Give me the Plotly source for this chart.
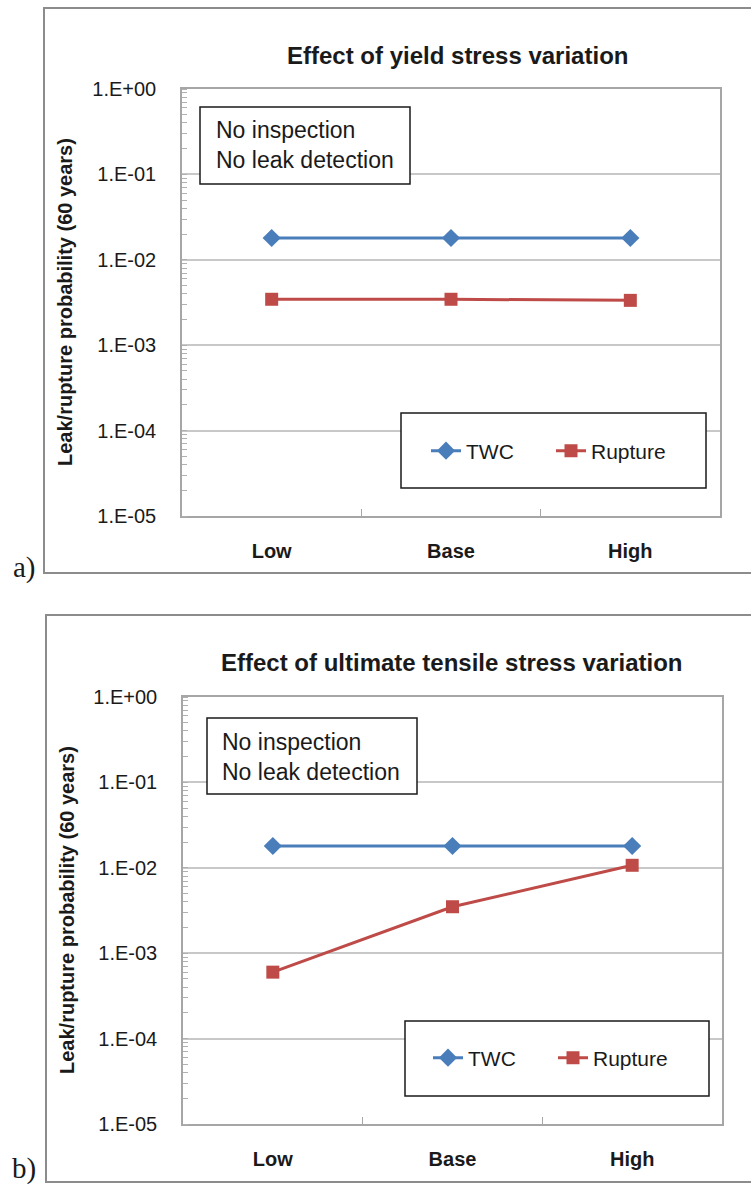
import plotly.graph_objects as go

# ---------------- data ----------------
categories = ["Low", "Base", "High"]
a_twc = [1.8e-2, 1.8e-2, 1.8e-2]
a_rupture = [3.45e-3, 3.45e-3, 3.35e-3]
b_twc = [1.8e-2, 1.8e-2, 1.8e-2]
b_rupture = [6.0e-4, 3.5e-3, 1.07e-2]
ytick_vals = [1e0, 1e-1, 1e-2, 1e-3, 1e-4, 1e-5]
ytick_text = ["1.E+00", "1.E-01", "1.E-02", "1.E-03", "1.E-04", "1.E-05"]
title_a = "Effect of yield stress variation"
title_b = "Effect of ultimate tensile stress variation"
ytitle = "Leak/rupture probability (60 years)"
note = "No inspection<br>No leak detection"

W, H = 751, 1184
BLUE = "#4A7EBB"
RED = "#BE4B48"
FONT = "Liberation Sans, Arial, sans-serif"
SERIF = "Liberation Serif, Times New Roman, serif"


def px(x):
    return x / W


def py(y):
    return 1 - y / H


fig = go.Figure()

panels = [
    dict(twc=a_twc, rup=a_rupture, xa="x", ya="y", legend="legend"),
    dict(twc=b_twc, rup=b_rupture, xa="x2", ya="y2", legend="legend2"),
]

for p in panels:
    fig.add_trace(go.Scatter(
        x=categories, y=p["twc"], name="TWC", mode="lines+markers",
        line=dict(color=BLUE, width=3),
        marker=dict(symbol="diamond", size=14, color=BLUE),
        xaxis=p["xa"], yaxis=p["ya"], legend=p["legend"]))
    fig.add_trace(go.Scatter(
        x=categories, y=p["rup"], name="Rupture", mode="lines+markers",
        line=dict(color=RED, width=3),
        marker=dict(symbol="square", size=13, color=RED),
        xaxis=p["xa"], yaxis=p["ya"], legend=p["legend"]))

common_x = dict(
    type="category", range=[-0.5, 2.5], showgrid=False, automargin=False,
    showline=True, linecolor="#A6A6A6", linewidth=1.5, mirror=True,
    ticks="inside", tickson="boundaries", ticklen=7, tickcolor="#A6A6A6",
    tickfont=dict(family=FONT, size=20, color="#1a1a1a", weight="bold"),
    ticklabelstandoff=16,
)
common_y = dict(
    type="log", range=[-5, 0], tickvals=ytick_vals, ticktext=ytick_text,
    automargin=False,
    showgrid=True, gridcolor="#C8C8C8", gridwidth=1.5,
    showline=True, linecolor="#A6A6A6", linewidth=1.5, mirror=True,
    ticks="", tickfont=dict(family=FONT, size=20, color="#1a1a1a"),
    ticklabelstandoff=20,
    minor=dict(ticks="inside", ticklen=5, tickcolor="#B0B0B0", dtick="D1",
               showgrid=False),
)

legend_common = dict(orientation="h", xanchor="left", yanchor="middle",
                     bgcolor="rgba(0,0,0,0)", borderwidth=0,
                     font=dict(family=FONT, size=21, color="#1a1a1a"),
                     entrywidth=80, entrywidthmode="pixels")

layout = dict(
    width=W, height=H, margin=dict(l=0, r=0, t=0, b=0, autoexpand=False),
    paper_bgcolor="white", plot_bgcolor="white",
    font=dict(family=FONT, color="#1a1a1a"),
    xaxis=dict(domain=[px(182), px(720)], anchor="y", **common_x),
    yaxis=dict(domain=[py(516), py(89)], anchor="x", **common_y),
    xaxis2=dict(domain=[px(183), px(722)], anchor="y2", **common_x),
    yaxis2=dict(domain=[py(1124), py(697)], anchor="x2", **common_y),
    legend=dict(x=px(426), y=py(451), **legend_common),
    legend2=dict(x=px(428), y=py(1058), **legend_common),
    showlegend=True,
)
fig.update_layout(**layout)

shapes = []
# outer frames (right side runs past the page edge)
shapes.append(dict(type="rect", xref="paper", yref="paper",
                   x0=px(44), x1=px(800), y0=py(573), y1=py(8),
                   line=dict(color="#8C8C8C", width=2)))
shapes.append(dict(type="rect", xref="paper", yref="paper",
                   x0=px(46), x1=px(800), y0=py(1182), y1=py(615),
                   line=dict(color="#8C8C8C", width=2)))
# note boxes
shapes.append(dict(type="rect", xref="paper", yref="paper",
                   x0=px(200), x1=px(410), y0=py(184), y1=py(107),
                   fillcolor="white", line=dict(color="#1a1a1a", width=1.5)))
shapes.append(dict(type="rect", xref="paper", yref="paper",
                   x0=px(207), x1=px(417), y0=py(794), y1=py(718),
                   fillcolor="white", line=dict(color="#1a1a1a", width=1.5)))
# legend boxes
shapes.append(dict(type="rect", xref="paper", yref="paper",
                   x0=px(401), x1=px(706), y0=py(488), y1=py(413),
                   fillcolor="white", line=dict(color="#1a1a1a", width=1.5)))
shapes.append(dict(type="rect", xref="paper", yref="paper",
                   x0=px(405), x1=px(709), y0=py(1096), y1=py(1021),
                   fillcolor="white", line=dict(color="#1a1a1a", width=1.5)))
fig.update_layout(shapes=shapes)


def text_ann(text, x, y, size, xanchor="center", bold=False, angle=0,
             family=FONT, align="center"):
    f = dict(family=family, size=size, color="#1a1a1a")
    if bold:
        f["weight"] = "bold"
    return dict(text=text, x=px(x), y=py(y), xref="paper", yref="paper",
                xanchor=xanchor, yanchor="middle", align=align,
                showarrow=False, textangle=angle, font=f)


ann = [
    text_ann(title_a, 458, 55, 24, bold=True),
    text_ann(title_b, 452, 662, 24, bold=True),
    text_ann(ytitle, 65, 302, 20, bold=True, angle=-90),
    text_ann(ytitle, 67, 910, 20, bold=True, angle=-90),
    text_ann(note, 214, 145, 23, xanchor="left", align="left"),
    text_ann(note, 220, 757, 23, xanchor="left", align="left"),
    text_ann("a)", 24, 567, 29, family=SERIF),
    text_ann("b)", 24, 1168, 29, family=SERIF),
]
fig.update_layout(annotations=ann)

fig.write_html(
    "out.html",
    config={"displayModeBar": False},
    post_script="document.body.style.margin='0';"
                "document.body.style.overflow='hidden';",
)
